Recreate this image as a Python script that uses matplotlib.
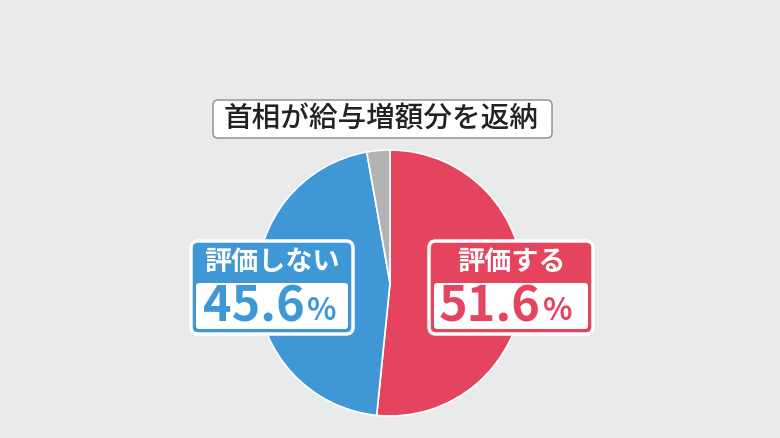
import matplotlib
matplotlib.use("Agg")
import matplotlib.pyplot as plt
from matplotlib.patches import FancyBboxPatch

plt.rcParams["font.family"] = ["Noto Sans CJK JP", "DejaVu Sans"]

# --- data ---
title = "首相が給与増額分を返納"
labels = ["評価する", "評価しない", "その他"]
values = [51.6, 45.6, 2.8]
colors = ["#e5445f", "#3f98d5", "#b3b3b3"]

BG = "#e8eaeb"
W, H = 780, 438

fig = plt.figure(figsize=(W / 100, H / 100), dpi=100, facecolor=BG)
ax = fig.add_axes([0, 0, 1, 1])
ax.set_xlim(0, W)
ax.set_ylim(0, H)
ax.set_aspect("equal")
ax.axis("off")
ax.set_facecolor(BG)


def py(y):
    # pixel row (top origin) -> data y
    return H - y


# pie, clockwise from 12 o'clock
ax.pie(values, colors=colors, startangle=90, counterclock=False,
       center=(390, py(283)), radius=133,
       wedgeprops=dict(edgecolor="white", linewidth=1.2))
ax.set_xlim(0, W)
ax.set_ylim(0, H)

# title box
ax.add_patch(FancyBboxPatch((213, py(138)), 339, 38,
                            boxstyle="round,pad=0,rounding_size=5",
                            facecolor="white", edgecolor="#8a8a8a", lw=1.0))
ax.text(381, py(119), title, ha="center", va="center", fontsize=20.6,
        color="#222222", fontweight="medium")


def label_box(x0, x1, head, value, color, dx):
    top, bot = 241, 334
    ax.add_patch(FancyBboxPatch((x0, py(bot)), x1 - x0, bot - top,
                                boxstyle="round,pad=0,rounding_size=7",
                                facecolor=color, edgecolor="white", lw=2.5))
    ax.add_patch(FancyBboxPatch((x0 + 5, py(bot - 5)), x1 - x0 - 10, bot - 5 - 283,
                                boxstyle="round,pad=0,rounding_size=3",
                                facecolor="white", edgecolor="none"))
    cx = (x0 + x1) / 2
    ax.text(cx, py(262), head, ha="center", va="center", fontsize=19.5,
            fontweight="bold", color="white")
    ax.text(cx + dx, py(307), value, ha="right", va="center", fontsize=35,
            fontweight="bold", color=color)
    ax.text(cx + dx + 2, py(311), "%", ha="left", va="center", fontsize=22,
            fontweight="bold", color=color)


label_box(191, 353, labels[1], f"{values[1]:.1f}", colors[1], 33)
label_box(429, 593, labels[0], f"{values[0]:.1f}", colors[0], 30)

fig.savefig("out.png", dpi=100, facecolor=BG)
